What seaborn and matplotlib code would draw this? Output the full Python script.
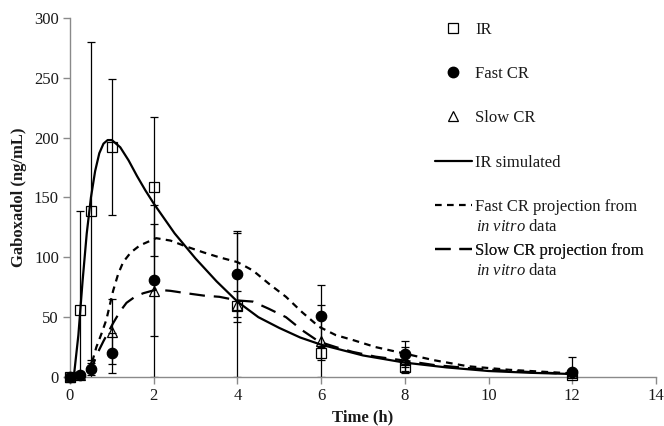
import matplotlib
matplotlib.use("Agg")
import matplotlib.pyplot as plt
from matplotlib.lines import Line2D
import numpy as np
import pandas as pd
import seaborn as sns

# ---------------- data ----------------
time_obs = [0, 0.25, 0.5, 1, 2, 4, 6, 8, 12]
ir_mean = [0, 56, 139, 192, 159, 59, 20, 8, 2]
ir_sd = [0, 83, 141, 57, 58, 13, 6, 3, 2]
fast_mean = [0, 2, 7, 20, 81, 86, 51, 19, 4]
fast_sd = [0, 2, 5, 17, 47, 36, 26, 11, 13]
slow_mean = [0, 2, 9, 38, 72, 60, 30, 14, 3]
slow_sd = [0, 2, 5, 27, 72, 60, 30, 11, 3]

ir_sim_t = [0, 0.1, 0.2, 0.3, 0.4, 0.5, 0.6, 0.7, 0.8, 0.9, 1.0, 1.2, 1.4, 1.6,
            1.8, 2.0, 2.5, 3.0, 3.5, 4.0, 4.5, 5.0, 5.5, 6.0, 7.0, 8.0, 9.0,
            10.0, 11.0, 12.0]
ir_sim_c = [0, 3, 35, 80, 120, 150, 172, 187, 195, 198, 198, 192, 181, 168,
            156, 145, 120, 99, 80, 63, 50, 41, 33, 27, 18, 12, 8, 5, 3.5, 2.5]

fast_proj_t = [0.45, 0.5, 0.63, 0.75, 0.87, 1.03, 1.15, 1.27, 1.45, 1.67, 2.06,
               2.4, 2.78, 3.2, 3.57, 4.0, 4.37, 4.75, 5.16, 5.55, 5.95, 6.35,
               6.75, 7.3, 7.94, 8.7, 9.5, 10.5, 12]
fast_proj_c = [3, 9, 25, 36, 48, 72, 86, 96, 104, 110, 116, 114, 109, 104, 100,
               96, 89, 78, 67, 54, 42, 35, 31, 25, 20, 14, 9, 6, 3]

slow_proj_t = [0.45, 0.55, 0.63, 0.8, 1.03, 1.2, 1.35, 1.55, 1.75, 2.06, 2.4,
               2.78, 3.2, 3.57, 4.0, 4.37, 4.75, 5.16, 5.55, 5.95, 6.35, 6.75,
               7.3, 7.94, 8.7, 9.5, 10.5, 12]
slow_proj_c = [3, 10, 18, 30, 45, 55, 62, 67, 70, 73, 72, 70, 68, 67, 64, 63,
               57, 50, 39, 29.5, 25, 21, 17, 14, 10, 7.5, 5, 2.5]

x_ticks = [0, 2, 4, 6, 8, 10, 12, 14]
y_ticks = [0, 50, 100, 150, 200, 250, 300]

labels = ["IR", "Fast CR", "Slow CR", "IR simulated",
          "Fast CR projection from", "Slow CR projection from"]
label_second_line = r"$\mathit{in\ vitro}$ data"

# ---------------- style ----------------
sns.set_theme(style="white")
plt.rcParams["font.family"] = ["Liberation Serif", "DejaVu Serif"]
plt.rcParams["mathtext.fontset"] = "custom"
plt.rcParams["mathtext.rm"] = "Liberation Serif"
plt.rcParams["mathtext.it"] = "Liberation Serif:italic"
plt.rcParams["mathtext.bf"] = "Liberation Serif:bold"

fig = plt.figure(figsize=(6.64, 4.26), dpi=100)
ax = fig.add_axes([70 / 664, 1 - 377 / 426, 586 / 664, 359 / 426])

spine_col = "#8a8a8a"
txt_col = "#1a1a1a"
fs = 12

# ---------------- simulated curves ----------------
sim = pd.concat([
    pd.DataFrame({"t": ir_sim_t, "c": ir_sim_c, "s": labels[3]}),
    pd.DataFrame({"t": fast_proj_t, "c": fast_proj_c, "s": labels[4]}),
    pd.DataFrame({"t": slow_proj_t, "c": slow_proj_c, "s": labels[5]}),
])
line_styles = {labels[3]: "-", labels[4]: (0, (3, 2.4)), labels[5]: (0, (7, 4))}
for name, grp in sim.groupby("s", sort=False):
    sns.lineplot(data=grp, x="t", y="c", ax=ax, color="black", lw=1.6,
                 linestyle=line_styles[name], estimator=None, sort=False,
                 legend=False, zorder=3)

# ---------------- observed data with error bars ----------------
obs_specs = [
    (ir_mean, ir_sd, "s", "none"),
    (fast_mean, fast_sd, "o", "black"),
    (slow_mean, slow_sd, "^", "none"),
]
for mean, sd, mk, fc in obs_specs:
    ax.errorbar(time_obs, mean, yerr=sd, fmt="none", ecolor="black",
                elinewidth=0.9, capsize=3, capthick=0.9, zorder=2)
for mean, sd, mk, fc in obs_specs:
    ax.plot(time_obs, mean, linestyle="none", marker=mk, markersize=7.5,
            markerfacecolor=fc, markeredgecolor="black", markeredgewidth=0.9,
            zorder=4, clip_on=False)

# ---------------- axes ----------------
ax.set_xlim(0, 14)
ax.set_ylim(0, 300)
ax.set_xticks(x_ticks)
ax.set_yticks(y_ticks)
for s in ["top", "right"]:
    ax.spines[s].set_visible(False)
for s in ["left", "bottom"]:
    ax.spines[s].set_color(spine_col)
    ax.spines[s].set_linewidth(1.0)
ax.tick_params(axis="both", direction="out", length=5, width=1.0,
               color=spine_col, labelsize=fs, labelcolor=txt_col, pad=3,
               left=True, bottom=True)
ax.set_xlabel("Time (h)", fontsize=fs, fontweight="bold", color=txt_col,
              labelpad=4)
ax.set_ylabel("Gaboxadol (ng/mL)", fontsize=fs, fontweight="bold",
              color=txt_col, labelpad=5)
ax.grid(False)

# ---------------- legend (one entry per block, like the reference) -------
handles = [
    Line2D([], [], linestyle="none", marker="s", markersize=7.5,
           markerfacecolor="none", markeredgecolor="black", markeredgewidth=0.9),
    Line2D([], [], linestyle="none", marker="o", markersize=7.5,
           markerfacecolor="black", markeredgecolor="black"),
    Line2D([], [], linestyle="none", marker="^", markersize=7.5,
           markerfacecolor="none", markeredgecolor="black", markeredgewidth=0.9),
    Line2D([], [], color="black", lw=1.6, linestyle="-"),
    Line2D([], [], color="black", lw=1.6, linestyle=(0, (3, 2.4))),
    Line2D([], [], color="black", lw=1.6, linestyle=(0, (7, 4))),
]
entry_y = [30, 74, 118, 163, 207, 251]
for h, lab, yc in zip(handles, labels, entry_y):
    leg = ax.legend([h], [lab], loc="center left",
                    bbox_to_anchor=(435 / 664, 1 - yc / 426),
                    bbox_transform=fig.transFigure, frameon=False,
                    borderpad=0, borderaxespad=0, handlelength=2.2,
                    handletextpad=0.2, fontsize=fs, labelcolor=txt_col)
    ax.add_artist(leg)
for yc in [227, 271]:
    fig.text(476 / 664, 1 - yc / 426, label_second_line, fontsize=fs,
             color=txt_col, va="center", ha="left")

fig.savefig("out.png", dpi=100)
